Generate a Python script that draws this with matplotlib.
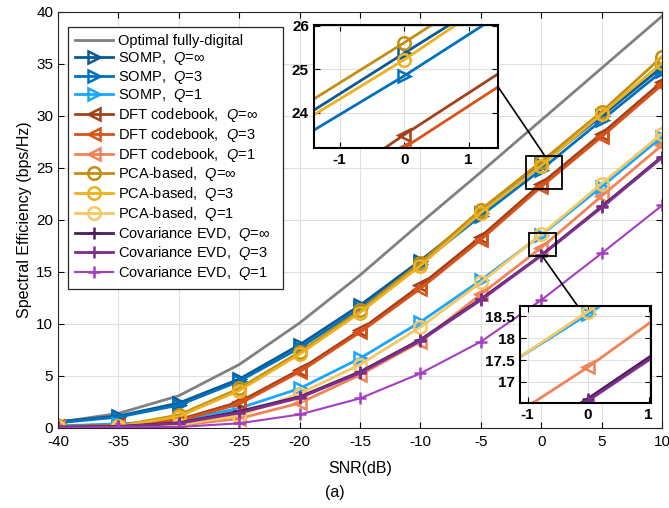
"""
Spectral efficiency vs SNR for hybrid precoding schemes, with two zoomed insets
"""

import matplotlib
matplotlib.use('Agg')
import matplotlib.pyplot as plt
from matplotlib.patches import Rectangle, ConnectionPatch
from matplotlib.ticker import FormatStrFormatter

plt.rcParams['font.family'] = ['Liberation Sans', 'DejaVu Sans']
plt.rcParams['mathtext.fontset'] = 'custom'
plt.rcParams['mathtext.rm'] = 'Liberation Sans'
plt.rcParams['mathtext.it'] = 'Liberation Sans:italic'
plt.rcParams['axes.unicode_minus'] = False

snr = [-40, -35, -30, -25, -20, -15, -10, -5, 0, 5, 10]

optimal = [0.55, 1.4, 3.1, 6.1, 10.1, 14.7, 19.7, 24.6, 29.6, 34.6, 39.6]
somp_inf = [0.6, 1.15, 2.4, 4.7, 8.0, 11.8, 16.1, 20.7, 25.37, 30.0, 34.7]
somp_3 = [0.5, 1.05, 2.2, 4.5, 7.7, 11.5, 15.8, 20.4, 24.85, 29.6, 34.3]
somp_1 = [0.2, 0.4, 0.7, 1.9, 3.8, 6.7, 10.2, 14.2, 18.55, 23.2, 28.0]
dft_inf = [0.15, 0.25, 0.8, 2.5, 5.6, 9.4, 13.7, 18.4, 23.5, 28.3, 33.3]
dft_3 = [0.1, 0.2, 0.7, 2.3, 5.4, 9.2, 13.4, 18.1, 23.2, 28.0, 33.0]
dft_1 = [0.05, 0.1, 0.25, 0.9, 2.4, 5.1, 8.3, 12.85, 17.34, 22.3, 27.2]
pca_inf = [0.15, 0.2, 1.25, 3.8, 7.3, 11.3, 15.9, 21.0, 25.61, 30.4, 35.7]
pca_3 = [0.12, 0.15, 1.1, 3.6, 7.1, 11.1, 15.6, 20.7, 25.22, 30.2, 35.1]
pca_1 = [0.05, 0.1, 0.3, 1.2, 3.3, 6.1, 9.7, 14.0, 18.61, 23.5, 28.3]
cov_inf = [0.1, 0.15, 0.5, 1.6, 3.0, 5.4, 8.5, 12.4, 16.62, 21.3, 26.1]
cov_3 = [0.08, 0.12, 0.45, 1.45, 2.9, 5.3, 8.4, 12.3, 16.57, 21.2, 26.0]
cov_1 = [0.02, 0.05, 0.1, 0.45, 1.3, 2.85, 5.25, 8.3, 12.3, 16.8, 21.4]

# (label, data, colour, marker)
series = [
    (r'SOMP,  $\mathit{Q}$=$\mathit{\infty}$', somp_inf, '#0a5a98', '>'),
    (r'SOMP,  $\mathit{Q}$=$\mathit{3}$', somp_3, '#0072bd', '>'),
    (r'SOMP,  $\mathit{Q}$=$\mathit{1}$', somp_1, '#1aa6ff', '>'),
    (r'DFT codebook,  $\mathit{Q}$=$\mathit{\infty}$', dft_inf, '#a3411a', '<'),
    (r'DFT codebook,  $\mathit{Q}$=$\mathit{3}$', dft_3, '#d95319', '<'),
    (r'DFT codebook,  $\mathit{Q}$=$\mathit{1}$', dft_1, '#f08358', '<'),
    (r'PCA-based,  $\mathit{Q}$=$\mathit{\infty}$', pca_inf, '#c38f12', 'o'),
    (r'PCA-based,  $\mathit{Q}$=$\mathit{3}$', pca_3, '#edb120', 'o'),
    (r'PCA-based,  $\mathit{Q}$=$\mathit{1}$', pca_1, '#f5c862', 'o'),
    (r'Covariance EVD,  $\mathit{Q}$=$\mathit{\infty}$', cov_inf, '#4d1f5a', '+'),
    (r'Covariance EVD,  $\mathit{Q}$=$\mathit{3}$', cov_3, '#7e2f8e', '+'),
    (r'Covariance EVD,  $\mathit{Q}$=$\mathit{1}$', cov_1, '#a43fc0', '+'),
]


def draw_curves(ax, with_labels=True):
    ax.plot(snr, optimal, color='#808080', lw=2,
            label='Optimal fully-digital' if with_labels else None)
    for label, vals, col, mk in series:
        lw = 1.5 if vals is cov_1 else 2
        ax.plot(snr, vals, color=col, lw=lw, marker=mk, markersize=9,
                markerfacecolor='none', markeredgecolor=col, markeredgewidth=1.8,
                label=label if with_labels else None)


def style_axes(ax, bold=False):
    ax.grid(True, color='#e0e0e0', lw=0.8)
    ax.set_axisbelow(True)
    ax.tick_params(direction='in', top=True, right=True, length=4)
    if bold:
        for t in ax.get_xticklabels() + ax.get_yticklabels():
            t.set_fontweight('bold')


fig = plt.figure(figsize=(6.69, 5.08), dpi=100)
ax = fig.add_axes([0.0867, 0.1575, 0.903, 0.819])
draw_curves(ax)
ax.set_xlim(-40, 10)
ax.set_ylim(0, 40)
ax.set_xticks(range(-40, 11, 5))
ax.set_yticks(range(0, 41, 5))
ax.tick_params(labelsize=11)
ax.tick_params(axis='x', pad=5)
style_axes(ax)
for s in ax.spines.values():
    s.set_color('#262626')
ax.set_xlabel('SNR(dB)', fontsize=11.5, labelpad=9)
ax.set_ylabel('Spectral Efficiency (bps/Hz)', fontsize=11.5, labelpad=3)
fig.text(0.5, 0.022, '(a)', ha='center', fontsize=11.5)

# legend box: left edge, top edge, width in axes fraction
leg = ax.legend(loc='upper left', bbox_to_anchor=(0.0166, 0.3, 0.356, 0.664),
                mode='expand', fontsize=10.5,
                handlelength=2.6, labelspacing=0.12, borderpad=0.5,
                handletextpad=0.3, fancybox=False, framealpha=1,
                edgecolor='#262626', borderaxespad=0)
leg.get_frame().set_linewidth(0.9)

# zoom boxes on the main plot
ax.add_patch(Rectangle((-1.3, 23.0), 3.0, 3.15, fill=False, ec='black', lw=1.3, zorder=10))
ax.add_patch(Rectangle((-1.0, 16.5), 2.2, 2.25, fill=False, ec='black', lw=1.3, zorder=10))

# upper inset
ins1 = fig.add_axes([0.469, 0.709, 0.275, 0.242])
draw_curves(ins1, with_labels=False)
ins1.set_xlim(-1.4, 1.45)
ins1.set_ylim(23.2, 26.02)
ins1.set_xticks([-1, 0, 1])
ins1.set_yticks([24, 25, 26])
ins1.tick_params(labelsize=11)
style_axes(ins1, bold=True)
for s in ins1.spines.values():
    s.set_linewidth(1.5)

# lower inset
ins2 = fig.add_axes([0.777, 0.206, 0.196, 0.192])
draw_curves(ins2, with_labels=False)
ins2.set_xlim(-1.13, 1.04)
ins2.set_ylim(16.51, 18.74)
ins2.set_xticks([-1, 0, 1])
ins2.set_yticks([17, 17.5, 18, 18.5])
ins2.yaxis.set_major_formatter(FormatStrFormatter('%g'))
ins2.tick_params(labelsize=11)
style_axes(ins2, bold=True)
for s in ins2.spines.values():
    s.set_linewidth(1.5)

con1 = ConnectionPatch(xyA=(1.0, 0.5), coordsA=ins1.transAxes,
                       xyB=(0.3, 26.15), coordsB=ax.transData, color='black', lw=1.2)
fig.add_artist(con1)
con2 = ConnectionPatch(xyA=(0.44, 1.0), coordsA=ins2.transAxes,
                       xyB=(0.1, 16.5), coordsB=ax.transData, color='black', lw=1.2)
fig.add_artist(con2)

fig.savefig('out.png', dpi=100)
